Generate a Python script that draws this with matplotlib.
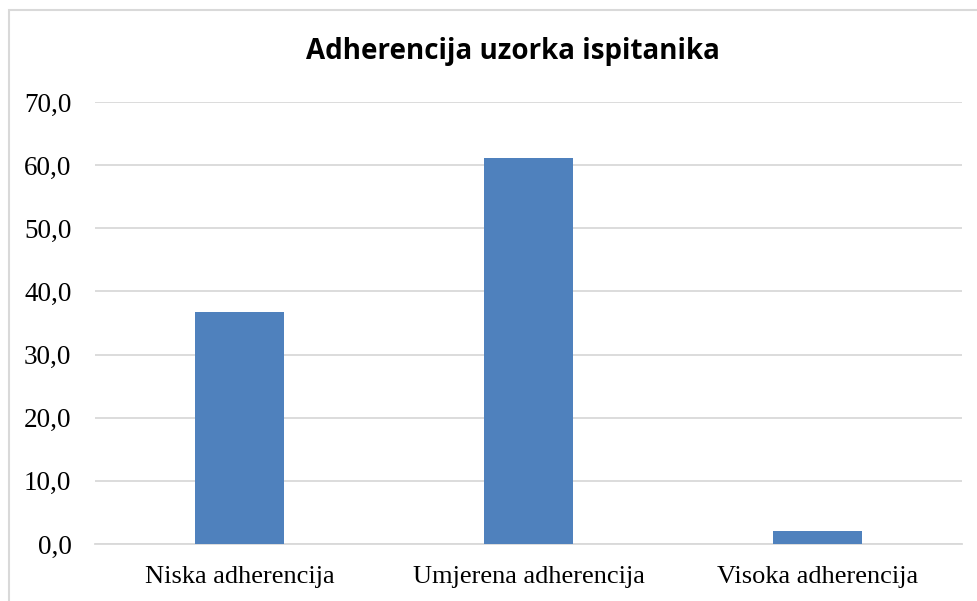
import matplotlib
matplotlib.use("Agg")
import matplotlib.pyplot as plt
from matplotlib.patches import Rectangle

# Data
categories = ["Niska adherencija", "Umjerena adherencija", "Visoka adherencija"]
values = [36.7, 61.2, 2.0]
y_ticks = [0, 10, 20, 30, 40, 50, 60, 70]
y_tick_labels = ["0,0", "10,0", "20,0", "30,0", "40,0", "50,0", "60,0", "70,0"]

fig = plt.figure(figsize=(9.77, 6.01), dpi=100)
ax = fig.add_axes([95 / 977, 57 / 601, 867 / 977, 442 / 601])

ax.bar(range(len(categories)), values, width=0.311, color="#4F81BD", zorder=3)

ax.set_xlim(-0.5, 2.5)
ax.set_ylim(0, 70)
ax.set_yticks(y_ticks)
ax.set_yticklabels(y_tick_labels, fontsize=19.5, family="Liberation Serif")
ax.set_xticks(range(len(categories)))
ax.set_xticklabels(categories, fontsize=19, family="Liberation Serif")
ax.tick_params(axis="both", length=0)
ax.tick_params(axis="y", pad=17)
ax.tick_params(axis="x", pad=16)

ax.grid(axis="y", color="#d9d9d9", linewidth=1.3, zorder=0)
for side in ["top", "right", "left"]:
    ax.spines[side].set_visible(False)
ax.spines["bottom"].set_color("#d9d9d9")
ax.spines["bottom"].set_linewidth(1.3)

fig.text(513 / 977, 1 - 51 / 601, "Adherencija uzorka ispitanika",
         fontsize=20, fontweight="bold", family="Open Sans",
         ha="center", va="center")

# chart area border (cut off on the right and bottom)
fig.patches.append(Rectangle((8.5 / 977, -0.1), 1.2, 1 - 9.5 / 601 + 0.1,
                             transform=fig.transFigure, fill=False,
                             edgecolor="#d9d9d9", linewidth=1.5))

fig.savefig("out.png", dpi=100)
